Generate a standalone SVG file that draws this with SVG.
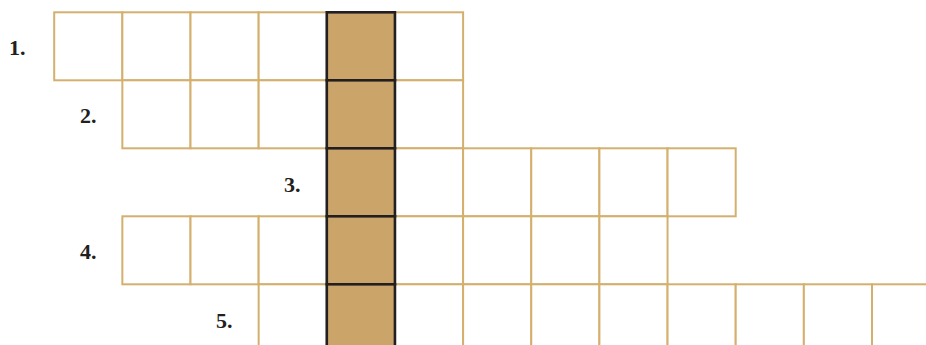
<svg xmlns="http://www.w3.org/2000/svg" width="926" height="345" viewBox="0 0 926 345">
<style>
.c{fill:#ffffff;stroke:#D4B06E;stroke-width:2}
.k{fill:#CBA46A;stroke:#231F20;stroke-width:2.6}
.l{font-family:"Liberation Serif","Times New Roman",serif;font-weight:bold;font-size:22px;fill:#231F20}
</style>
<defs>
<rect id="cell" width="68.15" height="68" class="c"/>
<rect id="key" width="68.15" height="68" class="k"/>
</defs>
<rect width="926" height="345" fill="#ffffff"/>
<g id="row1">
<use href="#cell" x="54.2" y="12.3"/>
<use href="#cell" x="122.35" y="12.3"/>
<use href="#cell" x="190.5" y="12.3"/>
<use href="#cell" x="258.65" y="12.3"/>
<use href="#cell" x="394.95" y="12.3"/>
<text class="l" x="9" y="55">1.</text>
</g>
<g id="row2">
<use href="#cell" x="122.35" y="80.3"/>
<use href="#cell" x="190.5" y="80.3"/>
<use href="#cell" x="258.65" y="80.3"/>
<use href="#cell" x="394.95" y="80.3"/>
<text class="l" x="80" y="123">2.</text>
</g>
<g id="row3">
<use href="#cell" x="394.95" y="148.3"/>
<use href="#cell" x="463.1" y="148.3"/>
<use href="#cell" x="531.25" y="148.3"/>
<use href="#cell" x="599.4" y="148.3"/>
<use href="#cell" x="667.55" y="148.3"/>
<text class="l" x="284" y="191.5">3.</text>
</g>
<g id="row4">
<use href="#cell" x="122.35" y="216.3"/>
<use href="#cell" x="190.5" y="216.3"/>
<use href="#cell" x="258.65" y="216.3"/>
<use href="#cell" x="394.95" y="216.3"/>
<use href="#cell" x="463.1" y="216.3"/>
<use href="#cell" x="531.25" y="216.3"/>
<use href="#cell" x="599.4" y="216.3"/>
<text class="l" x="80" y="259">4.</text>
</g>
<g id="row5">
<use href="#cell" x="258.65" y="284.3"/>
<use href="#cell" x="394.95" y="284.3"/>
<use href="#cell" x="463.1" y="284.3"/>
<use href="#cell" x="531.25" y="284.3"/>
<use href="#cell" x="599.4" y="284.3"/>
<use href="#cell" x="667.55" y="284.3"/>
<use href="#cell" x="735.7" y="284.3"/>
<use href="#cell" x="803.85" y="284.3"/>
<use href="#cell" x="872" y="284.3"/>
<text class="l" x="216" y="327.5">5.</text>
</g>
<g id="keyword">
<use href="#key" x="326.8" y="12.3"/>
<use href="#key" x="326.8" y="80.3"/>
<use href="#key" x="326.8" y="148.3"/>
<use href="#key" x="326.8" y="216.3"/>
<use href="#key" x="326.8" y="284.3"/>
</g>
<g id="connectors"/>
</svg>
